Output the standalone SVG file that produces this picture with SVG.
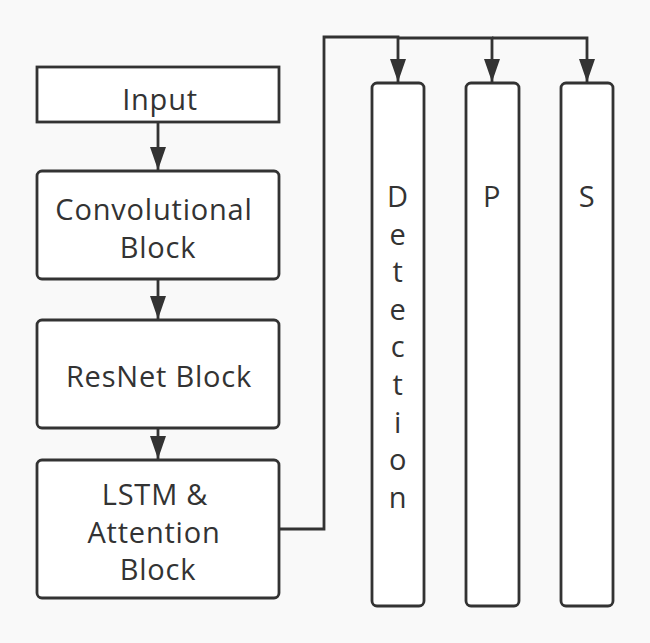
<svg xmlns="http://www.w3.org/2000/svg" width="650" height="643" viewBox="0 0 650 643">
<style>
.box{fill:#fff;stroke:#333;stroke-width:2.8}
.t{font-family:"Open Sans","Noto Sans",sans-serif;font-size:29px;fill:#333;text-anchor:middle;letter-spacing:0.8px}
.c{fill:none;stroke:#333;stroke-width:2.8}
</style>
<defs>
<marker id="ah" markerWidth="23" markerHeight="16" refX="23" refY="8" orient="auto" markerUnits="userSpaceOnUse" viewBox="0 0 23 16">
<path d="M0,0 L23,8 L0,16 z" fill="#333"/>
</marker>
</defs>
<rect width="650" height="643" fill="#f9f9f9"/>
<g id="connectors">
<line class="c" x1="158" y1="122" x2="158" y2="170" marker-end="url(#ah)"/>
<line class="c" x1="158" y1="279" x2="158" y2="319" marker-end="url(#ah)"/>
<line class="c" x1="158" y1="428" x2="158" y2="459" marker-end="url(#ah)"/>
<polyline class="c" points="279,529 324,529 324,37 398,37 398,82" marker-end="url(#ah)"/>
<polyline class="c" points="398,38 492,38 492,82" marker-end="url(#ah)"/>
<polyline class="c" points="492,38 587,38 587,82" marker-end="url(#ah)"/>
</g>
<g id="input"><rect class="box" x="37" y="67" width="242" height="55"/><text class="t" x="160" y="110">Input</text></g>
<g id="conv"><rect class="box" x="37" y="171" width="242" height="108" rx="5"/><text class="t" x="154" y="220">Convolutional</text><text class="t" x="158" y="258">Block</text></g>
<g id="resnet"><rect class="box" x="37" y="320" width="242" height="108" rx="5"/><text class="t" x="159" y="387">ResNet Block</text></g>
<g id="lstm"><rect class="box" x="37" y="460" width="242" height="138" rx="5"/><text class="t" x="155" y="505">LSTM &amp;</text><text class="t" x="154" y="543">Attention</text><text class="t" x="158" y="580">Block</text></g>
<g id="detection"><rect class="box" x="372" y="83" width="52" height="523" rx="5"/>
<text class="t" x="398" y="207">D</text><text class="t" x="398" y="245">e</text><text class="t" x="398" y="282">t</text><text class="t" x="398" y="320">e</text><text class="t" x="398" y="357">c</text><text class="t" x="398" y="395">t</text><text class="t" x="398" y="433">i</text><text class="t" x="398" y="470">o</text><text class="t" x="398" y="508">n</text></g>
<g id="p"><rect class="box" x="466" y="83" width="53" height="523" rx="5"/><text class="t" x="492" y="207">P</text></g>
<g id="s"><rect class="box" x="561" y="83" width="52" height="523" rx="5"/><text class="t" x="587" y="207">S</text></g>
</svg>
